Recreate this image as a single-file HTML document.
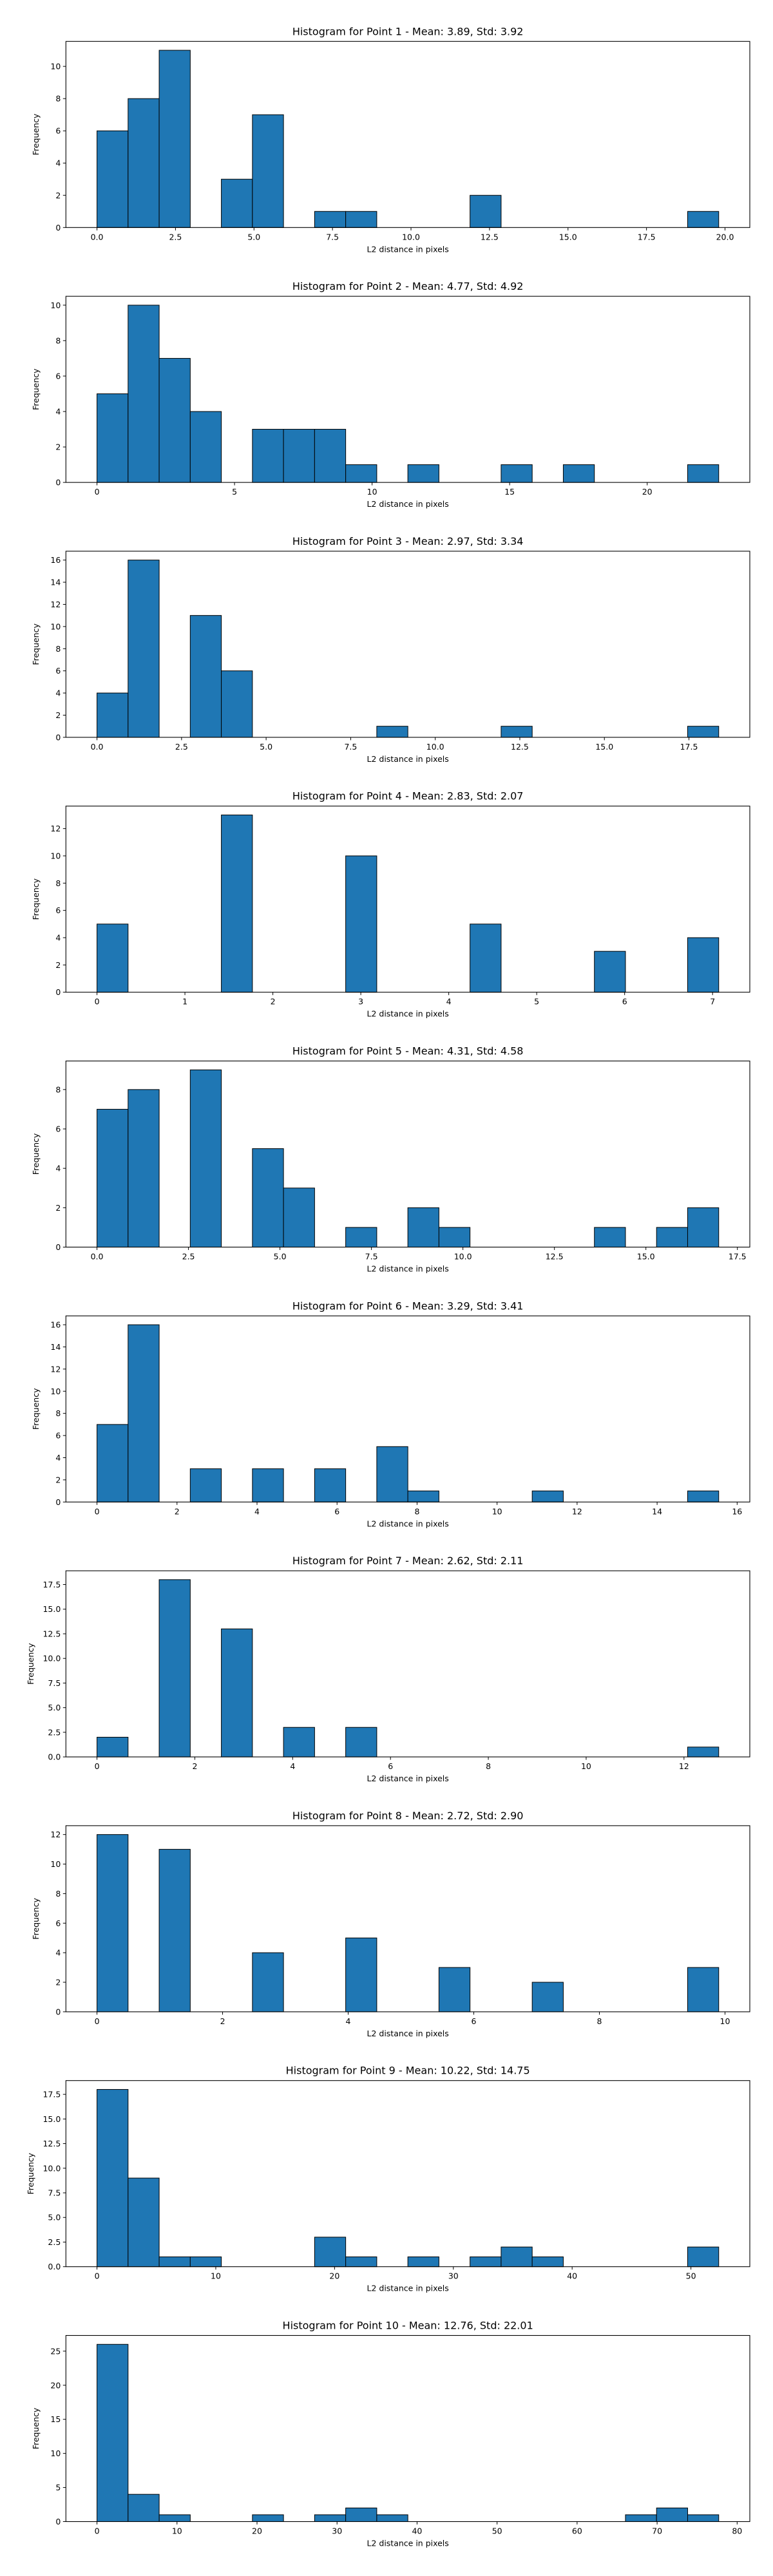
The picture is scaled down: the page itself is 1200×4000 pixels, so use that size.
<!DOCTYPE html>
<html><head><meta charset="utf-8">
<style>
html,body{margin:0;padding:0;background:#fff;}
svg{display:block;font-family:"DejaVu Sans","Liberation Sans",sans-serif;}
</style></head>
<body>
<svg id="fig" width="1200" height="4000" viewBox="0 0 1200 4000" xmlns="http://www.w3.org/2000/svg"></svg>
<script>
// Data per chart
const titles = [
  "Histogram for Point 1 - Mean: 3.89, Std: 3.92",
  "Histogram for Point 2 - Mean: 4.77, Std: 4.92",
  "Histogram for Point 3 - Mean: 2.97, Std: 3.34",
  "Histogram for Point 4 - Mean: 2.83, Std: 2.07",
  "Histogram for Point 5 - Mean: 4.31, Std: 4.58",
  "Histogram for Point 6 - Mean: 3.29, Std: 3.41",
  "Histogram for Point 7 - Mean: 2.62, Std: 2.11",
  "Histogram for Point 8 - Mean: 2.72, Std: 2.90",
  "Histogram for Point 9 - Mean: 10.22, Std: 14.75",
  "Histogram for Point 10 - Mean: 12.76, Std: 22.01"
];
const dataMin = [0,0,0,0,0,0,0,0,0,0];
const dataMax = [19.8,22.6,18.38,7.07,16.99,15.54,12.71,9.90,52.34,77.7];
const counts1 = [6,8,11,0,3,7,0,1,1,0,0,0,2,0,0,0,0,0,0,1];
const counts2 = [5,10,7,4,0,3,3,3,1,0,1,0,0,1,0,1,0,0,0,1];
const counts3 = [4,16,0,11,6,0,0,0,0,1,0,0,0,1,0,0,0,0,0,1];
const counts4 = [5,0,0,0,13,0,0,0,10,0,0,0,5,0,0,0,3,0,0,4];
const counts5 = [7,8,0,9,0,5,3,0,1,0,2,1,0,0,0,0,1,0,1,2];
const counts6 = [7,16,0,3,0,3,0,3,0,5,1,0,0,0,1,0,0,0,0,1];
const counts7 = [2,0,18,0,13,0,3,0,3,0,0,0,0,0,0,0,0,0,0,1];
const counts8 = [12,0,11,0,0,4,0,0,5,0,0,3,0,0,2,0,0,0,0,3];
const counts9 = [18,9,1,1,0,0,0,3,1,0,1,0,1,2,1,0,0,0,0,2];
const counts10 = [26,4,1,0,0,1,0,1,2,1,0,0,0,0,0,0,0,1,2,1];
const xTicks = [
  [0,2.5,5,7.5,10,12.5,15,17.5,20],
  [0,5,10,15,20],
  [0,2.5,5,7.5,10,12.5,15,17.5],
  [0,1,2,3,4,5,6,7],
  [0,2.5,5,7.5,10,12.5,15,17.5],
  [0,2,4,6,8,10,12,14,16],
  [0,2,4,6,8,10,12],
  [0,2,4,6,8,10],
  [0,10,20,30,40,50],
  [0,10,20,30,40,50,60,70,80]
];
const xDecimals = [1,0,1,0,1,0,0,0,0,0];
const yTicks = [
  [0,2,4,6,8,10],
  [0,2,4,6,8,10],
  [0,2,4,6,8,10,12,14,16],
  [0,2,4,6,8,10,12],
  [0,2,4,6,8],
  [0,2,4,6,8,10,12,14,16],
  [0,2.5,5,7.5,10,12.5,15,17.5],
  [0,2,4,6,8,10,12],
  [0,2.5,5,7.5,10,12.5,15,17.5],
  [0,5,10,15,20,25]
];
const yDecimals = [0,0,0,0,0,0,1,0,1,0];
const allCounts = [counts1,counts2,counts3,counts4,counts5,counts6,counts7,counts8,counts9,counts10];

const NS = "http://www.w3.org/2000/svg";
const svg = document.getElementById("fig");
function mk(tag, attrs, parent){
  const e = document.createElementNS(NS, tag);
  for (const k in attrs) e.setAttribute(k, attrs[k]);
  parent.appendChild(e);
  return e;
}
const AX_L = 102.3, AX_R = 1164, AX_H = 289, TOP0 = 64.3, STEP = 395.8;

for (let c = 0; c < 10; c++) {
  const top = TOP0 + STEP * c, bot = top + AX_H;
  const mn = dataMin[c], mx = dataMax[c], rng = mx - mn;
  const xlo = mn - 0.05 * rng, xhi = mx + 0.05 * rng;
  const xs = v => AX_L + (v - xlo) / (xhi - xlo) * (AX_R - AX_L);
  const cnt = allCounts[c];
  const ymax = Math.max(...cnt) * 1.05;
  const ys = v => bot - v / ymax * AX_H;

  const g = mk("g", {}, svg);
  
  

  const t = mk("text", {x: (AX_L + AX_R) / 2, y: top - 10, "text-anchor": "middle", "font-size": "16", fill: "#000"}, g);
  t.textContent = titles[c];
  
  

  // bars
  const bw = rng / cnt.length;
  for (let i = 0; i < cnt.length; i++) {
    const x0 = xs(mn + i * bw), x1 = xs(mn + (i + 1) * bw);
    const r = mk("rect", {x: x0, y: ys(cnt[i]), width: x1 - x0, height: bot - ys(cnt[i]), fill: "#1f77b4", stroke: "#000", "stroke-width": "1"}, g);
    
    
  }

  // frame
  const fr = mk("rect", {x: AX_L, y: top, width: AX_R - AX_L, height: AX_H, fill: "none", stroke: "#000", "stroke-width": "1.1"}, g);
  
  

  // x ticks
  xTicks[c].forEach(v => {
    const x = xs(v);
    mk("line", {x1: x, y1: bot, x2: x, y2: bot + 4.5, stroke: "#000", "stroke-width": "1"}, g);
    const tl = mk("text", {x: x, y: bot + 19, "text-anchor": "middle", "font-size": "12.5", fill: "#000"}, g);
    tl.textContent = v.toFixed(xDecimals[c]);
    
    
  });
  // y ticks
  yTicks[c].forEach(v => {
    const y = ys(v);
    mk("line", {x1: AX_L, y1: y, x2: AX_L - 4.5, y2: y, stroke: "#000", "stroke-width": "1"}, g);
    const tl = mk("text", {x: AX_L - 8, y: y + 4.5, "text-anchor": "end", "font-size": "12.5", fill: "#000"}, g);
    tl.textContent = v.toFixed(yDecimals[c]);
    
    
  });

  const xl = mk("text", {x: (AX_L + AX_R) / 2, y: bot + 38, "text-anchor": "middle", "font-size": "12.5", fill: "#000"}, g);
  xl.textContent = "L2 distance in pixels";
  
  

  const yx = yDecimals[c] ? 52 : 60;
  const yl = mk("text", {x: yx, y: top + AX_H / 2, "text-anchor": "middle", "font-size": "12.5", fill: "#000", transform: "rotate(-90 " + yx + " " + (top + AX_H / 2) + ")"}, g);
  yl.textContent = "Frequency";
  
  
}
</script>
</body></html>
